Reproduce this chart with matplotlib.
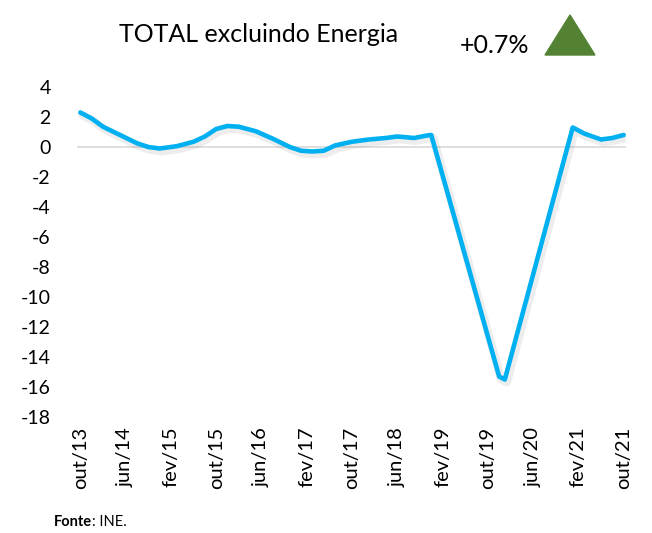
import matplotlib
matplotlib.use('Agg')
import matplotlib.pyplot as plt
import matplotlib.patheffects as pe
from matplotlib.patches import Polygon

# months since out/13 and index values
months = [0, 2, 4, 7, 10, 12, 14, 17, 20, 22, 24, 26, 28, 31, 34, 37, 39, 41, 43,
          45, 48, 51, 54, 56, 59, 61, 62, 74, 75, 87, 89, 92, 94, 96]
values = [2.3, 1.9, 1.35, 0.8, 0.25, 0.0, -0.1, 0.05, 0.35, 0.7, 1.2, 1.4, 1.35,
          1.05, 0.55, 0.0, -0.25, -0.3, -0.25, 0.1, 0.35, 0.5, 0.6, 0.7, 0.6,
          0.75, 0.8, -15.3, -15.5, 1.3, 0.9, 0.5, 0.6, 0.8]

tick_months = list(range(0, 97, 8))
tick_labels = ['out/13', 'jun/14', 'fev/15', 'out/15', 'jun/16', 'fev/17', 'out/17',
               'jun/18', 'fev/19', 'out/19', 'jun/20', 'fev/21', 'out/21']
y_ticks = list(range(4, -19, -2))

plt.rcParams['font.family'] = ['Lato', 'DejaVu Sans']

fig = plt.figure(figsize=(6.52, 5.33), dpi=100)
ax = fig.add_axes([0.118, 0.2176, 0.842, 0.6192])

ax.axhline(0, color='#D9D9D9', lw=1.2, zorder=1)
ax.plot(months, values, color='#00B0F0', lw=3.3, solid_joinstyle='round',
        solid_capstyle='round', zorder=3,
        path_effects=[pe.SimpleLineShadow(offset=(1.5, -2), shadow_color='black', alpha=0.07, linewidth=6),
                      pe.Normal()])

ax.set_xlim(-0.6, 96.4)
ax.set_ylim(-18, 4)
ax.set_yticks(y_ticks)
ax.set_yticklabels([str(v) for v in y_ticks], fontsize=14)
ax.set_xticks(tick_months)
ax.set_xticklabels(tick_labels, rotation=90, fontsize=14.5)
ax.tick_params(axis='both', length=0)
ax.tick_params(axis='y', pad=19)
ax.tick_params(axis='x', pad=7)
for s in ax.spines.values():
    s.set_visible(False)

fig.text(0.396, 0.935, 'TOTAL excluindo Energia', fontsize=18, ha='center', va='center')
fig.text(0.759, 0.914, '+0.7%', fontsize=18, ha='center', va='center')
tri = Polygon([[545 / 652, 1 - 55 / 533], [595 / 652, 1 - 55 / 533], [570 / 652, 1 - 15 / 533]],
              closed=True, transform=fig.transFigure, color='#548235')
fig.patches.append(tri)

src = fig.text(0.083, 0.02, 'Fonte', fontsize=10.5, fontweight='bold', ha='left', va='center')
fig.canvas.draw()
bb = src.get_window_extent().transformed(fig.transFigure.inverted())
fig.text(bb.x1, 0.02, ': INE.', fontsize=10.5, ha='left', va='center')

fig.savefig('out.png', dpi=100)
